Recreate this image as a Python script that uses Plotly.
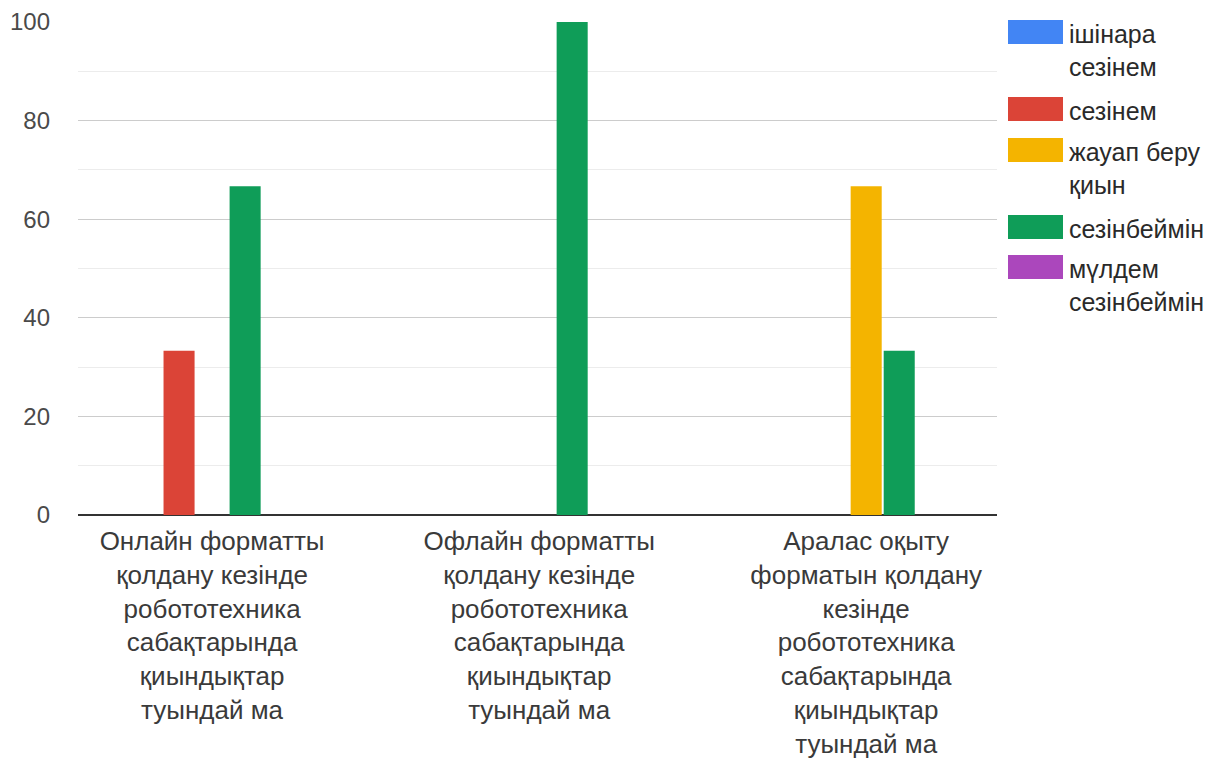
import plotly.graph_objects as go

# Survey categories (x axis) and response series
categories = [
    "Онлайн форматты<br>қолдану кезінде<br>робототехника<br>сабақтарында<br>қиындықтар<br>туындай ма",
    "Офлайн форматты<br>қолдану кезінде<br>робототехника<br>сабақтарында<br>қиындықтар<br>туындай ма",
    "Аралас оқыту<br>форматын қолдану<br>кезінде<br>робототехника<br>сабақтарында<br>қиындықтар<br>туындай ма",
]
series_names = ["ішінара сезінем", "сезінем", "жауап беру қиын", "сезінбеймін", "мүлдем сезінбеймін"]
legend_labels = ["ішінара<br>сезінем", "сезінем", "жауап беру<br>қиын", "сезінбеймін", "мүлдем<br>сезінбеймін"]
partly = [0, 0, 0]
feel = [33.3, 0, 0]
hard_to_say = [0, 0, 66.7]
dont_feel = [66.7, 100, 33.3]
not_at_all = [0, 0, 0]
y_ticks = [0, 20, 40, 60, 80, 100]

series_values = [partly, feel, hard_to_say, dont_feel, not_at_all]
colors = ["#4285F4", "#DB4437", "#F4B400", "#0F9D58", "#AB47BC"]

FONT = "Liberation Sans, Arial, sans-serif"
xpos = list(range(len(categories)))

fig = go.Figure()
for name, vals, col in zip(series_names, series_values, colors):
    fig.add_trace(go.Bar(x=xpos, y=vals, name=name, marker=dict(color=col, line=dict(width=0)),
                         showlegend=False))

W, H = 1230, 763
ml, mr, mt, mb = 78, 233, 22, 248
pw, ph = W - ml - mr, H - mt - mb

def px_x(p):
    return (p - ml) / pw

def px_y(p):
    return 1 - (p - mt) / ph

# Hand-drawn legend with wide swatches
swatch_tops = [20, 97, 138, 215, 255]
shapes = []
annotations = []
for lab, col, top in zip(legend_labels, colors, swatch_tops):
    shapes.append(dict(type="rect", xref="paper", yref="paper",
                       x0=px_x(1008), x1=px_x(1063), y0=px_y(top + 24), y1=px_y(top),
                       fillcolor=col, line=dict(width=0)))
    annotations.append(dict(xref="paper", yref="paper", x=px_x(1067), y=px_y(top - 2),
                            xanchor="left", yanchor="top", align="left", showarrow=False,
                            text=lab, font=dict(family=FONT, size=25, color="#2a2a2a")))

fig.update_layout(
    width=W, height=H,
    margin=dict(l=ml, r=mr, t=mt, b=mb),
    paper_bgcolor="white", plot_bgcolor="white",
    barmode="group", bargap=0.495, bargroupgap=0.06,
    shapes=shapes, annotations=annotations,
    xaxis=dict(range=[-0.41, 2.40], tickvals=xpos, ticktext=categories, automargin=False,
               showgrid=False, zeroline=False, showline=False, ticks="",
               tickfont=dict(family=FONT, size=26, color="#3a3a3a"), ticklabelstandoff=8),
    yaxis=dict(range=[0, 100], tickvals=y_ticks, ticks="", automargin=False,
               showgrid=True, gridcolor="#cccccc", gridwidth=1,
               minor=dict(dtick=10, tick0=0, showgrid=True, gridcolor="#ececec", gridwidth=1),
               zeroline=True, zerolinecolor="#333333", zerolinewidth=1.5,
               tickfont=dict(family=FONT, size=24, color="#4a4a4a"), ticklabelstandoff=27),
)

fig.write_html("out.html")
